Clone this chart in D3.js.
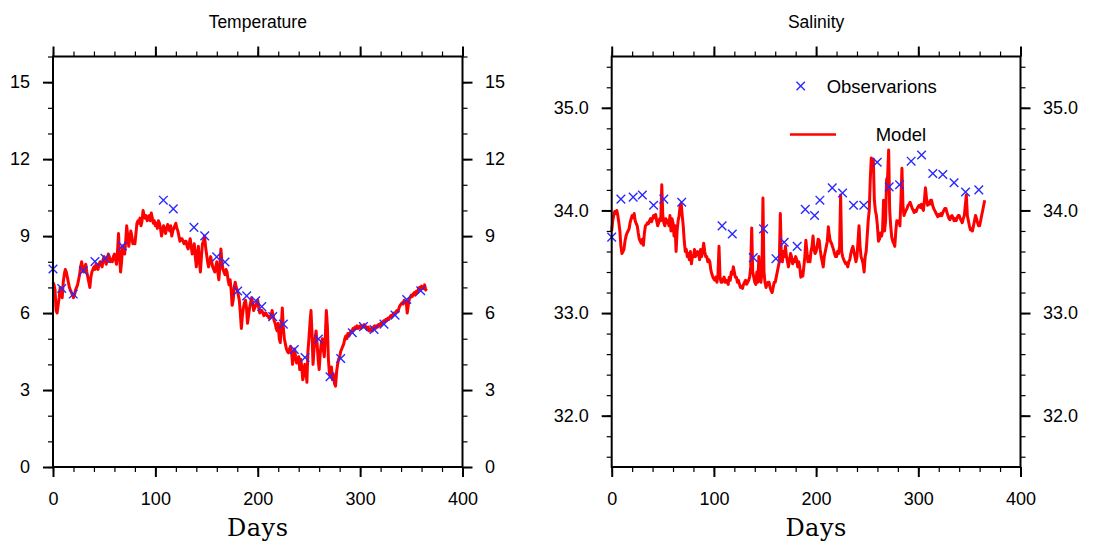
<!DOCTYPE html>
<html>
<head>
<meta charset="utf-8">
<script src="https://cdn.jsdelivr.net/npm/d3@7"></script>
<style>
  html, body { margin: 0; padding: 0; background: #fff; }
  text { font-family: "Liberation Sans", Arial, sans-serif; }
</style>
</head>
<body>
<div id="chart"></div>
<script>
// Data
const modelDays = d3.range(0, 366);

const tempModel = [
  7.2, 7.1, 6.9, 6.1, 6.0, 6.3, 6.6, 7.0, 6.8, 6.6,
  7.2, 7.5, 7.7, 7.6, 7.4, 7.2, 7.0, 6.9, 6.8, 6.7,
  6.6, 6.7, 6.9, 7.0, 7.1, 7.3, 7.5, 7.8, 8.0, 7.7,
  7.6, 7.8, 7.9, 7.6, 7.4, 7.2, 7.0, 7.4, 7.6, 7.7,
  7.8, 7.7, 7.9, 7.8, 7.7, 7.9, 8.0, 7.9, 7.8, 8.1,
  8.2, 8.0, 7.9, 8.1, 8.3, 8.2, 8.0, 8.1, 8.0, 8.2,
  8.3, 8.1, 7.9, 8.4, 9.1, 8.2, 7.6, 8.0, 8.6, 8.4,
  8.3, 8.8, 9.4, 9.0, 8.6, 8.9, 9.2, 9.0, 8.7, 8.8,
  8.7, 9.1, 9.5, 9.6, 9.5, 9.7, 9.4, 9.6, 10.0, 9.8,
  9.7, 9.8, 9.6, 9.7, 9.8, 9.6, 9.9, 9.7, 9.5, 9.6,
  9.4, 9.5, 9.3, 9.6, 9.5, 9.3, 9.0, 9.2, 9.4, 9.3,
  9.1, 9.3, 9.45, 9.3, 9.2, 9.4, 9.0, 9.2, 9.3, 9.4,
  9.5, 9.3, 9.2, 9.0, 8.8, 8.9, 8.9, 8.8, 8.7, 8.8,
  8.8, 8.6, 8.5, 8.7, 8.9, 8.6, 8.3, 8.5, 8.7, 8.2,
  7.8, 8.3, 8.6, 8.0, 7.6, 8.2, 8.7, 8.8, 9.0, 8.6,
  8.3, 8.0, 7.8, 8.0, 8.2, 8.0, 7.8, 7.7, 7.6, 7.8,
  8.0, 7.6, 7.3, 7.8, 8.5, 8.0, 7.7, 7.6, 7.5, 7.7,
  7.6, 7.3, 7.1, 7.3, 6.9, 6.3, 6.5, 7.0, 7.2, 7.0,
  6.9, 6.7, 6.5, 6.0, 5.4, 5.9, 6.2, 6.4, 6.5, 6.2,
  5.6, 5.9, 6.2, 6.4, 6.6, 6.4, 6.1, 6.2, 6.3, 6.4,
  6.5, 6.2, 6.0, 6.1, 6.1, 6.0, 5.9, 6.0, 6.0, 5.9,
  5.9, 5.8, 5.8, 5.9, 6.1, 5.9, 5.7, 5.6, 5.4, 5.3,
  5.6, 5.0, 4.85, 5.5, 6.2, 5.4, 5.0, 4.8, 4.6, 4.5,
  4.45, 4.6, 4.7, 4.5, 4.0, 4.3, 4.6, 4.3, 4.05, 4.2,
  4.3, 3.8, 4.2, 3.9, 3.4, 3.6, 4.0, 3.9, 3.3, 4.5,
  5.0, 5.6, 6.1, 5.2, 4.0, 4.6, 5.0, 5.3, 4.8, 4.2,
  3.8, 4.4, 4.8, 5.0, 4.6, 4.3, 5.1, 6.1, 5.5, 4.2,
  3.65, 3.5, 3.9, 3.4, 3.6, 3.25, 3.15, 3.7, 4.0, 4.2,
  4.3, 4.5, 4.6, 4.7, 4.8, 5.0, 5.1, 5.0, 5.2, 5.1,
  5.2, 5.3, 5.25, 5.4, 5.35, 5.45, 5.4, 5.5, 5.4, 5.45,
  5.5, 5.4, 5.5, 5.45, 5.55, 5.5, 5.4, 5.35, 5.45, 5.3,
  5.35, 5.4, 5.3, 5.45, 5.5, 5.4, 5.5, 5.45, 5.55, 5.5,
  5.6, 5.55, 5.6, 5.7, 5.65, 5.75, 5.7, 5.8, 5.75, 5.85,
  5.9, 5.85, 5.95, 6.0, 5.95, 6.05, 6.1, 6.05, 6.2, 6.3,
  6.35, 6.4, 6.35, 6.5, 6.4, 6.45, 6.0, 6.3, 6.55, 6.6,
  6.7, 6.65, 6.75, 6.8, 6.7, 6.85, 6.8, 6.95, 7.0, 6.9,
  7.05, 7.0, 6.95, 7.1, 6.9, 6.95
];

const salModel = [
  33.80, 33.90, 33.95, 33.99, 33.97, 34.00, 33.95, 33.88, 33.80, 33.65,
  33.58, 33.60, 33.62, 33.70, 33.75, 33.78, 33.80, 33.82, 33.88, 33.92,
  33.95, 33.93, 33.97, 33.90, 33.87, 33.85, 33.78, 33.72, 33.70, 33.68,
  33.72, 33.66, 33.78, 33.85, 33.86, 33.88, 33.87, 33.90, 33.92, 33.89,
  33.92, 33.95, 33.93, 33.96, 33.90, 33.85, 33.88, 33.92, 33.90, 34.25,
  33.95, 33.88, 33.85, 33.92, 33.88, 33.90, 33.85, 33.95, 33.80, 33.92,
  33.88, 33.75, 33.85, 33.60, 33.80, 33.90, 33.95, 34.05, 34.07, 33.95,
  33.85, 33.70, 33.60, 33.62, 33.55, 33.58, 33.52, 33.60, 33.48, 33.55,
  33.55, 33.62, 33.55, 33.58, 33.60, 33.58, 33.52, 33.62, 33.55, 33.60,
  33.68, 33.60, 33.55, 33.55, 33.50, 33.52, 33.50, 33.42, 33.38, 33.35,
  33.33, 33.32, 33.35, 33.30, 33.38, 33.65, 33.35, 33.30, 33.30, 33.33,
  33.35, 33.30, 33.32, 33.30, 33.28, 33.35, 33.32, 33.40, 33.38, 33.45,
  33.40, 33.35, 33.35, 33.30, 33.32, 33.28, 33.25, 33.26, 33.24, 33.28,
  33.30, 33.32, 33.28, 33.30, 33.32, 33.35, 33.45, 33.83, 33.40, 33.35,
  33.30, 33.28, 33.40, 33.30, 33.55, 33.35, 33.30, 33.40, 34.12, 33.40,
  33.30, 33.25, 33.28, 33.30, 33.30, 33.25, 33.22, 33.20, 33.25, 33.30,
  33.30, 33.35, 33.40, 33.45, 33.50, 33.97, 33.55, 33.50, 33.60, 33.55,
  33.65, 33.55, 33.50, 33.45, 33.52, 33.58, 33.55, 33.48, 33.52, 33.50,
  33.55, 33.52, 33.45, 33.50, 33.45, 33.35, 33.40, 33.36, 33.45, 33.55,
  33.71, 33.60, 33.50, 33.55, 33.50, 33.60, 33.65, 33.75, 33.62, 33.58,
  33.60, 33.65, 33.72, 33.71, 33.62, 33.55, 33.50, 33.45, 33.55, 33.60,
  33.65, 33.70, 33.84, 33.75, 33.70, 33.68, 33.65, 33.62, 33.58, 33.55,
  33.55, 33.60, 33.58, 33.65, 34.15, 33.60, 33.55, 33.52, 33.50, 33.48,
  33.49, 33.45, 33.50, 33.52, 33.58, 33.62, 33.65, 33.60, 33.55, 33.50,
  33.55, 33.70, 33.85, 33.65, 33.55, 33.52, 33.48, 33.40, 33.55, 33.60,
  33.75, 33.90, 34.00, 34.30, 34.51, 34.45, 34.50, 34.10, 34.00, 33.95,
  33.85, 33.70, 33.72, 33.78, 33.75, 33.80, 34.10, 33.80, 33.90, 34.30,
  34.33, 34.59, 34.00, 33.85, 33.74, 33.70, 33.68, 33.65, 33.80, 33.90,
  33.88, 33.90, 33.85, 34.10, 34.41, 34.05, 33.95, 33.98, 34.00, 34.02,
  34.05, 34.06, 34.08, 34.05, 34.02, 34.00, 33.98, 34.00, 33.99, 34.02,
  34.04, 34.05, 34.03, 34.06, 34.02, 34.00, 34.10, 34.22, 34.12, 34.05,
  34.08, 34.06, 34.10, 34.10, 34.05, 34.02, 34.00, 33.98, 33.96, 33.94,
  33.96, 33.95, 33.97, 33.95, 33.98, 34.00, 34.02, 34.02, 33.98, 33.95,
  33.92, 33.91, 33.94, 33.95, 33.93, 33.90, 33.92, 33.90, 33.93, 33.95,
  33.95, 33.92, 33.90, 33.88, 33.92, 33.95, 34.05, 34.15, 33.95, 33.90,
  33.85, 33.81, 33.82, 33.80, 33.85, 33.90, 33.95, 33.92, 33.88, 33.85,
  33.85, 33.90, 33.95, 34.00, 34.05, 34.10
];

const tempObsDays = [0, 8.5, 19.8, 29.6, 41, 50.8, 67.7, 107.8, 117.5, 137.7, 148.2, 159.9, 168, 180.4, 189.2, 198, 203.9, 214.6, 225, 235.7, 246.2, 259.2, 270.6, 281, 292.4, 303.2, 313.6, 323.3, 334.1, 345.5, 359.2];
const tempObs = [7.72, 6.96, 6.74, 7.65, 8.01, 8.13, 8.62, 10.40, 10.06, 9.34, 9.01, 8.19, 7.99, 6.86, 6.67, 6.48, 6.25, 5.86, 5.57, 4.58, 4.27, 4.99, 3.52, 4.23, 5.23, 5.47, 5.36, 5.57, 5.92, 6.53, 6.87];

const salObsDays = [0, 9, 21, 30, 41, 51, 68.5, 108, 118, 138.5, 148.6, 160.7, 168.8, 181.5, 189.4, 198.5, 203.7, 215.8, 225.9, 236.6, 246.7, 259.8, 271.5, 281.7, 293, 303.2, 314.2, 324, 335, 346.2, 359.2];
const salObs = [33.74, 34.11, 34.13, 34.15, 34.05, 34.11, 34.08, 33.85, 33.77, 33.54, 33.82, 33.53, 33.69, 33.65, 34.01, 33.95, 34.10, 34.22, 34.17, 34.05, 34.05, 34.47, 34.23, 34.25, 34.48, 34.54, 34.36, 34.35, 34.27, 34.18, 34.20];

const xTicks = [0, 100, 200, 300, 400];
const tempTicks = [0, 3, 6, 9, 12, 15];
const salTicks = [32.0, 33.0, 34.0, 35.0];

// Dimensions
const width = 1094;
const height = 545;
const plotTop = 56.5;
const plotBottom = 467;

const svg = d3
  .select("#chart")
  .append("svg")
  .attr("width", width)
  .attr("height", height);

function drawPanel(opts) {
  const x = d3.scaleLinear().domain([0, 400]).range([opts.left, opts.right]);
  const y = d3.scaleLinear().domain(opts.yDomain).range([plotBottom, plotTop]);
  const g = svg.append("g");

  // Title
  g.append("text")
    .attr("x", (opts.left + opts.right) / 2)
    .attr("y", 28)
    .attr("text-anchor", "middle")
    .style("font-size", "17.5px")
    .text(opts.title);

  // Model line
  const line = d3
    .line()
    .x((d, i) => x(modelDays[i]))
    .y((d) => y(d));
  g.append("path")
    .datum(opts.model)
    .attr("d", line)
    .attr("fill", "none")
    .attr("stroke", "#ff0000")
    .attr("stroke-width", 3)
    .attr("stroke-linejoin", "round");

  // Observations
  const s = 4.3;
  g.append("g")
    .selectAll("path")
    .data(opts.obs)
    .join("path")
    .attr("d", (d, i) => {
      const cx = x(opts.obsDays[i]);
      const cy = y(d);
      return `M${cx - s},${cy - s}L${cx + s},${cy + s}M${cx - s},${cy + s}L${cx + s},${cy - s}`;
    })
    .attr("stroke", "#2a2aff")
    .attr("stroke-width", 1.4)
    .attr("fill", "none");

  // Axes
  const xMinor = d3.range(0, 401, 20);
  const axes = [
    { axis: d3.axisBottom(x).tickValues(xTicks).tickSize(10).tickPadding(15), t: `translate(0,${plotBottom})`, major: true },
    { axis: d3.axisBottom(x).tickValues(xMinor).tickSize(5).tickFormat(""), t: `translate(0,${plotBottom})` },
    { axis: d3.axisTop(x).tickValues(xTicks).tickSize(10).tickFormat(""), t: `translate(0,${plotTop})`, major: true },
    { axis: d3.axisTop(x).tickValues(xMinor).tickSize(5).tickFormat(""), t: `translate(0,${plotTop})` },
    { axis: d3.axisLeft(y).tickValues(opts.yTicks).tickSize(10).tickPadding(13).tickFormat(opts.fmt), t: `translate(${opts.left},0)`, major: true },
    { axis: d3.axisLeft(y).tickValues(opts.yMinor).tickSize(5).tickFormat(""), t: `translate(${opts.left},0)` },
    { axis: d3.axisRight(y).tickValues(opts.yTicks).tickSize(10).tickPadding(12.5).tickFormat(opts.fmt), t: `translate(${opts.right},0)`, major: true },
    { axis: d3.axisRight(y).tickValues(opts.yMinor).tickSize(5).tickFormat(""), t: `translate(${opts.right},0)` }
  ];
  axes.forEach((a) => {
    const ag = g.append("g").attr("transform", a.t).call(a.axis);
    ag.select(".domain").remove();
    ag.selectAll("line")
      .attr("stroke", "#000")
      .attr("stroke-width", a.major ? 2 : 1.2);
    ag.selectAll("text")
      .attr("fill", "#000")
      .style("font-size", "18px")
      .style("font-family", "'Liberation Sans', Arial, sans-serif");
  });

  // Frame
  g.append("rect")
    .attr("x", opts.left)
    .attr("y", plotTop)
    .attr("width", opts.right - opts.left)
    .attr("height", plotBottom - plotTop)
    .attr("fill", "none")
    .attr("stroke", "#000")
    .attr("stroke-width", 2);

  // X axis title
  g.append("text")
    .attr("x", (opts.left + opts.right) / 2)
    .attr("y", 536)
    .attr("text-anchor", "middle")
    .style("font-family", "'DejaVu Serif', serif")
    .style("font-size", "24px")
    .style("letter-spacing", "0.5px")
    .text("Days");

  return { x, y, g };
}

drawPanel({
  title: "Temperature",
  left: 53,
  right: 462.5,
  yDomain: [0, 16],
  yTicks: tempTicks,
  yMinor: d3.range(0, 17, 1),
  fmt: d3.format("d"),
  model: tempModel,
  obs: tempObs,
  obsDays: tempObsDays
});

drawPanel({
  title: "Salinity",
  left: 611.7,
  right: 1020.5,
  yDomain: [31.5, 35.5],
  yTicks: salTicks,
  yMinor: d3.range(31.6, 35.45, 0.2),
  fmt: d3.format(".1f"),
  model: salModel,
  obs: salObs,
  obsDays: salObsDays
});

// Legend
const legend = svg.append("g");
legend.append("path")
  .attr("d", "M796.5,81.8L804.9,90.2M796.5,90.2L804.9,81.8")
  .attr("stroke", "#2a2aff")
  .attr("stroke-width", 1.4);
legend.append("text")
  .attr("x", 826.7)
  .attr("y", 92.7)
  .style("font-size", "18.5px")
  .text("Observarions");
legend.append("line")
  .attr("x1", 790)
  .attr("x2", 836)
  .attr("y1", 134.5)
  .attr("y2", 134.5)
  .attr("stroke", "#ff0000")
  .attr("stroke-width", 2.6);
legend.append("text")
  .attr("x", 875.7)
  .attr("y", 141.3)
  .style("font-size", "18.5px")
  .text("Model");
</script>
</body>
</html>
